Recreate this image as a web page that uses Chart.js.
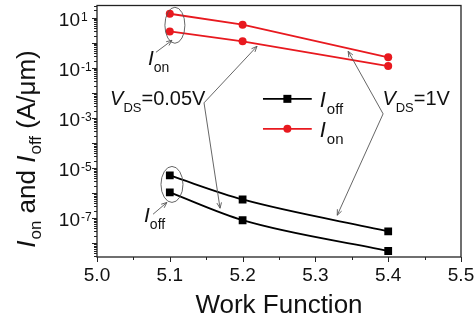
<!DOCTYPE html>
<html>
<head>
<meta charset="utf-8">
<script src="https://cdn.jsdelivr.net/npm/chart.js@4.4.1/dist/chart.umd.min.js"></script>
<style>
    html, body { margin: 0; padding: 0; background: #fff; }
    #wrap { width: 476px; height: 322px; position: relative; }
</style>
</head>
<body>
<div id="wrap"><canvas id="chart"></canvas></div>
<script>
// --- Data ---
const workFunction = [5.1, 5.2, 5.4];
const ionVds1 = [14.8, 5.4, 0.27];
const ionVds005 = [2.9, 1.17, 0.12];
const ioffVds1 = [5.1e-6, 5.6e-7, 3.0e-8];
const ioffVds005 = [1.07e-6, 8.3e-8, 4.9e-9];

const xTickLabels = ['5.0', '5.1', '5.2', '5.3', '5.4', '5.5'];
const yTickExponents = [1, -1, -3, -5, -7];

const FONT = '"Liberation Sans", Arial, sans-serif';
const RED = '#e8191f';
const INK = '#111';
const ANNO = '#555';

const pts = (ys) => workFunction.map((x, i) => ({ x: x, y: ys[i] }));

// draw a run of text pieces (main text, sub/superscripts) starting at x, baseline y
function drawRich(ctx, x, y, parts) {
    let cx = x;
    parts.forEach(p => {
        ctx.font = p.font;
        ctx.fillText(p.t, cx, y + (p.dy || 0));
        cx += ctx.measureText(p.t).width + (p.gap || 0);
    });
    return cx;
}
function richWidth(ctx, parts) {
    let w = 0;
    parts.forEach(p => { ctx.font = p.font; w += ctx.measureText(p.t).width + (p.gap || 0); });
    return w;
}

function arrowLine(ctx, a, b) {
    ctx.beginPath();
    ctx.moveTo(a[0], a[1]);
    ctx.lineTo(b[0], b[1]);
    const ang = Math.atan2(b[1] - a[1], b[0] - a[0]);
    const L = 6;
    ctx.moveTo(b[0] - L * Math.cos(ang - 0.4), b[1] - L * Math.sin(ang - 0.4));
    ctx.lineTo(b[0], b[1]);
    ctx.lineTo(b[0] - L * Math.cos(ang + 0.4), b[1] - L * Math.sin(ang + 0.4));
    ctx.stroke();
}

const framePlugin = {
    id: 'originFrame',
    afterDraw(chart) {
        const ctx = chart.ctx;
        const area = chart.chartArea;
        const xs = chart.scales.x;
        const ys = chart.scales.y;
        const P = (x, lg) => [xs.getPixelForValue(x), ys.getPixelForValue(Math.pow(10, lg))];

        ctx.save();
        // frame
        ctx.strokeStyle = '#222';
        ctx.lineWidth = 1.3;
        ctx.strokeRect(area.left, area.top, area.right - area.left, area.bottom - area.top);

        // y ticks (log, minor 2..9)
        ctx.lineWidth = 1;
        ctx.beginPath();
        for (let k = -9; k <= 1; k++) {
            for (let m = 1; m <= 9; m++) {
                const v = m * Math.pow(10, k);
                if (v < ys.min || v > ys.max) continue;
                const y = Math.round(ys.getPixelForValue(v)) + 0.5;
                const len = m === 1 ? 5 : 3;
                ctx.moveTo(area.left, y);
                ctx.lineTo(area.left - len, y);
            }
        }
        // x ticks
        for (let i = 0; i <= 10; i++) {
            const x = Math.round(xs.getPixelForValue(5.0 + i * 0.05)) + 0.5;
            const len = i % 2 === 0 ? 5 : 3;
            ctx.moveTo(x, area.bottom);
            ctx.lineTo(x, area.bottom + len);
        }
        ctx.stroke();

        // tick labels
        ctx.fillStyle = INK;
        ctx.textBaseline = 'alphabetic';
        ctx.font = '19px ' + FONT;
        ctx.textAlign = 'center';
        xTickLabels.forEach(t => {
            ctx.fillText(t, xs.getPixelForValue(parseFloat(t)), area.bottom + 24);
        });
        yTickExponents.forEach(e => {
            const y = ys.getPixelForValue(Math.pow(10, e));
            ctx.textAlign = 'right';
            ctx.font = '19px ' + FONT;
            ctx.fillText('10', area.left - 17, y + 8);
            ctx.textAlign = 'left';
            ctx.font = '12px ' + FONT;
            ctx.fillText(String(e).replace('-', '-'), area.left - 16, y + 3);
        });

        // axis titles
        ctx.textAlign = 'left';
        ctx.font = '26px ' + FONT;
        const xt = 'Work Function';
        const xw = ctx.measureText(xt).width;
        ctx.fillText(xt, (area.left + area.right) / 2 - xw / 2, chart.height - 9);

        const yParts = [
            { t: 'I', font: 'italic 26px ' + FONT, gap: 1 },
            { t: 'on', font: '17px ' + FONT, dy: 6 },
            { t: ' and ', font: '26px ' + FONT },
            { t: 'I', font: 'italic 26px ' + FONT, gap: 1 },
            { t: 'off', font: '17px ' + FONT, dy: 6 },
            { t: ' (A/\u03bcm)', font: '26px ' + FONT }
        ];
        ctx.save();
        ctx.translate(35, 149);
        ctx.rotate(-Math.PI / 2);
        drawRich(ctx, -richWidth(ctx, yParts) / 2, 0, yParts);
        ctx.restore();

        // legend
        const legend = [
            { lg: -2.23, color: '#000', style: 'rect', label: 'off' },
            { lg: -3.43, color: RED, style: 'circle', label: 'on' }
        ];
        legend.forEach(item => {
            const a = P(5.228, item.lg);
            const b = P(5.295, item.lg);
            ctx.strokeStyle = item.color;
            ctx.lineWidth = 1.8;
            ctx.beginPath();
            ctx.moveTo(a[0], a[1]);
            ctx.lineTo(b[0], b[1]);
            ctx.stroke();
            ctx.fillStyle = item.color;
            const mx = (a[0] + b[0]) / 2;
            if (item.style === 'rect') {
                ctx.fillRect(mx - 4, a[1] - 4, 8, 8);
            } else {
                ctx.beginPath();
                ctx.arc(mx, a[1], 4, 0, Math.PI * 2);
                ctx.fill();
            }
            ctx.fillStyle = INK;
            drawRich(ctx, b[0] + 8, a[1] + 8, [
                { t: 'I', font: 'italic 22px ' + FONT, gap: 1 },
                { t: item.label, font: '15px ' + FONT, dy: 7 }
            ]);
        });

        // annotations: ellipses, arrows, labels
        ctx.strokeStyle = ANNO;
        ctx.lineWidth = 0.9;
        [[5.107, 0.71, 10, 18], [5.103, -5.65, 11, 18]].forEach(e => {
            const c = P(e[0], e[1]);
            ctx.beginPath();
            ctx.ellipse(c[0], c[1], e[2], e[3], 0, 0, Math.PI * 2);
            ctx.stroke();
        });
        arrowLine(ctx, P(5.081, -0.37), P(5.103, 0.11));
        arrowLine(ctx, P(5.077, -6.84), P(5.096, -6.37));

        const v005 = P(5.147, -2.39);
        arrowLine(ctx, v005, P(5.2198, -0.13));
        arrowLine(ctx, v005, P(5.169, -6.60));
        const v1 = P(5.393, -2.83);
        arrowLine(ctx, v1, P(5.345, -0.33));
        arrowLine(ctx, v1, P(5.330, -6.88));

        ctx.fillStyle = INK;
        const ionLbl = P(5.070, -0.88);
        drawRich(ctx, ionLbl[0], ionLbl[1], [
            { t: 'I', font: 'italic 21px ' + FONT, gap: 0 },
            { t: 'on', font: '14px ' + FONT, dy: 7 }
        ]);
        const ioffLbl = P(5.0646, -7.16);
        drawRich(ctx, ioffLbl[0], ioffLbl[1], [
            { t: 'I', font: 'italic 21px ' + FONT, gap: 0 },
            { t: 'off', font: '14px ' + FONT, dy: 7 }
        ]);
        const vA = P(5.018, -2.47);
        drawRich(ctx, vA[0], vA[1], [
            { t: 'V', font: 'italic 20px ' + FONT },
            { t: 'DS', font: '13px ' + FONT, dy: 7 },
            { t: '=0.05V', font: '20px ' + FONT }
        ]);
        const vB = P(5.392, -2.47);
        drawRich(ctx, vB[0], vB[1], [
            { t: 'V', font: 'italic 20px ' + FONT },
            { t: 'DS', font: '13px ' + FONT, dy: 7 },
            { t: '=1V', font: '20px ' + FONT }
        ]);
        ctx.restore();
    }
};

const lineStyle = (color, style, r, smooth) => ({
    borderColor: color,
    backgroundColor: color,
    pointBackgroundColor: color,
    pointBorderColor: color,
    pointStyle: style,
    pointRadius: r,
    pointBorderWidth: 0,
    borderWidth: 1.8,
    cubicInterpolationMode: smooth ? 'monotone' : 'default',
    tension: 0,
    fill: false
});

new Chart(document.getElementById('chart'), {
    type: 'line',
    data: {
        datasets: [
            Object.assign({ label: 'Ion VDS=1V', data: pts(ionVds1) }, lineStyle(RED, 'circle', 4, false)),
            Object.assign({ label: 'Ion VDS=0.05V', data: pts(ionVds005) }, lineStyle(RED, 'circle', 4, false)),
            Object.assign({ label: 'Ioff VDS=1V', data: pts(ioffVds1) }, lineStyle('#000', 'rect', 5.5, true)),
            Object.assign({ label: 'Ioff VDS=0.05V', data: pts(ioffVds005) }, lineStyle('#000', 'rect', 5.5, true))
        ]
    },
    options: {
        responsive: true,
        maintainAspectRatio: false,
        animation: false,
        devicePixelRatio: 1,
        layout: { padding: { left: 0, top: 4, right: 15, bottom: 0 } },
        plugins: { legend: { display: false }, tooltip: { enabled: false } },
        scales: {
            x: {
                type: 'linear',
                min: 5.0,
                max: 5.5,
                grid: { display: false },
                border: { display: false },
                ticks: { display: false },
                afterFit: (s) => { s.height = 65; }
            },
            y: {
                type: 'logarithmic',
                min: Math.pow(10, -8.55),
                max: Math.pow(10, 1.5),
                grid: { display: false },
                border: { display: false },
                ticks: { display: false },
                afterFit: (s) => { s.width = 97; }
            }
        }
    },
    plugins: [framePlugin]
});
</script>
</body>
</html>
